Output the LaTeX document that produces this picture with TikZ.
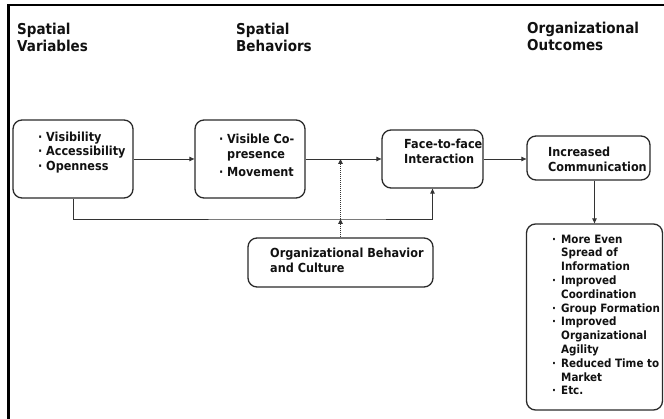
\documentclass[tikz,border=0pt]{standalone}
\usepackage{fontspec}
\setmainfont{DejaVu Sans}[FakeStretch=0.9]
\usetikzlibrary{arrows.meta}
\definecolor{txtc}{HTML}{111111}
\definecolor{boxc}{HTML}{2A2A2A}
\definecolor{linec}{HTML}{333333}
\newcommand{\fs}[2]{\fontsize{#1}{#2}\selectfont\bfseries}
\newcommand{\bl}{\makebox[8pt][l]{·}}
\newcommand{\bll}{\makebox[9pt][l]{·}}
\newcommand{\ind}{\hspace*{9pt}}
\begin{document}
\begin{tikzpicture}[x=1pt,y=-1pt,
  box/.style={draw=boxc, line width=1.3pt, rounded corners=9pt, inner sep=0pt},
  arr/.style={draw=linec, line width=0.9pt, -{Triangle[length=5pt,width=4.5pt]}},
  darr/.style={draw=linec, line width=0.9pt, dash pattern=on 1pt off 1pt, -{Triangle[length=5pt,width=4.5pt]}},
  txt/.style={anchor=north west, inner sep=0pt, align=left, text=txtc},
  hdr/.style={txt, font=\fs{15}{16.5}}]
\useasboundingbox (0,0) rectangle (664,419);
% frame
\draw[line width=2.5pt, black] (8.5,419) -- (8.5,5) -- (664,5);
% headers
\node[hdr] (h1) at (17,23) {Spatial\\Variables};
\node[hdr] (h2) at (236,23) {Spatial\\Behaviors};
\node[hdr] (h3) at (527,22) {Organizational\\Outcomes};
% boxes
\node[box, minimum width=120pt, minimum height=78pt] (A) at (73,159) {};
\node[box, minimum width=110pt, minimum height=78pt] (B) at (250,159) {};
\node[box, minimum width=101pt, minimum height=58pt] (C) at (432.5,159) {};
\node[box, minimum width=123pt, minimum height=44pt] (D) at (588.5,158) {};
\node[box, minimum width=136pt, minimum height=186pt] (E) at (594.5,317) {};
\node[box, minimum width=185pt, minimum height=49pt] (F) at (340.5,262.5) {};
% texts
\node[txt, font=\fs{12.5}{14.5}] (tA) at (38,131.5) {\bl Visibility\\\bl Accessibility\\\bl Openness};
\node[txt, font=\fs{12.5}{15}] (tB) at (219,133.5) {\bl Visible Co-\\\hspace*{8pt}presence\\[3pt]\bl Movement};
\node[txt, font=\fs{12.5}{15}] (tC) at (404,138.5) {Face-to-face\\Interaction};
\node[txt, font=\fs{12.5}{15}] (tD) at (548,146.5) {Increased\\Communication};
\node[txt, font=\fs{12.5}{15}] (tF) at (270,247.5) {Organizational Behavior\\and Culture};
\node[txt, font=\fs{11.5}{13.8}] (tE) at (552,234.5) {\bll More Even\\\ind Spread of\\\ind Information\\\bll Improved\\\ind Coordination\\\bll Group Formation\\\bll Improved\\\ind Organizational\\\ind Agility\\\bll Reduced Time to\\\ind Market\\\bll Etc.};
% connectors
\coordinate (jn) at (340.5,219);
\coordinate (mid) at (340.5,159);
\draw[arr] (A.east) -- (B.west);
\draw[arr] (B.east) -- (C.west);
\draw[arr] (C.east) -- (C.east -| D.west);
\draw[arr] (D.south -| E.north) -- (E.north);
\draw[arr] (A.south) |- (jn) -| (C.south);
\draw[darr] (F.north) -- (jn);
\draw[darr] (jn) -- (mid);
\end{tikzpicture}
\end{document}
